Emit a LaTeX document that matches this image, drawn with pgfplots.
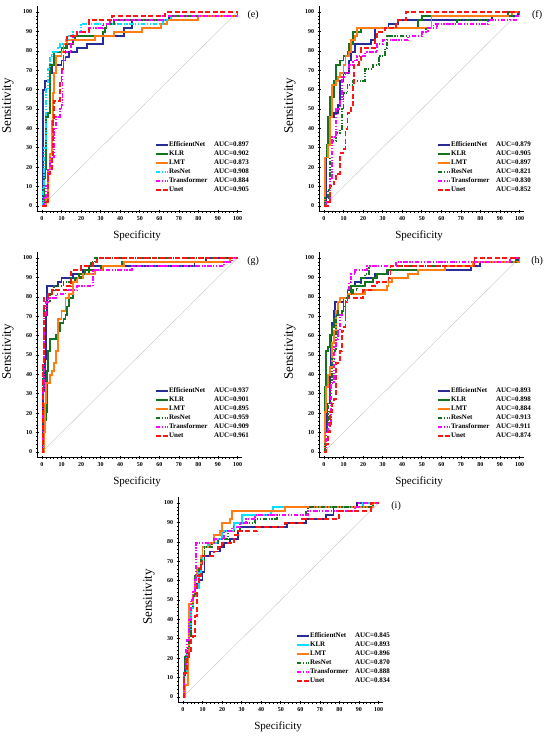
\documentclass[border=0pt]{standalone}
\usepackage{pgfplots}
\pgfplotsset{compat=1.18}
\usepackage{fontspec}
\setmainfont{Liberation Serif}
\definecolor{cEff}{RGB}{40,45,150}
\definecolor{cKLR}{RGB}{20,115,30}
\definecolor{cLMT}{RGB}{255,125,20}
\definecolor{cCyan}{RGB}{0,225,255}
\definecolor{cMag}{RGB}{255,0,255}
\definecolor{cRed}{RGB}{255,20,20}
\tikzset{
  ddot/.style={dash pattern=on 4.5pt off 1.6pt on 1.2pt off 1.6pt on 1.2pt off 1.6pt},
  dsh/.style={dash pattern=on 5pt off 2.6pt},
  sEff/.style={cEff,line width=1.9pt},
  sKLR/.style={cKLR,line width=1.9pt},
  sLMT/.style={cLMT,line width=1.9pt},
  sResC/.style={cCyan,line width=1.9pt,ddot},
  sResG/.style={cKLR,line width=1.9pt,ddot},
  sKLRC/.style={cCyan,line width=1.9pt},
  sTra/.style={cMag,line width=1.9pt,ddot},
  sUnet/.style={cRed,line width=1.9pt,dsh},
}
\pgfplotsset{
  rocax/.style={
    scale only axis, width=205.3pt, height=205.6pt,
    xmin=-2.5,xmax=102.5,ymin=-3,ymax=103,
    axis lines=left, axis line style={-, line width=0.9pt},
    xtick={0,10,...,100}, ytick={0,10,...,100},
    minor x tick num=4, minor y tick num=4,
    major tick length=3pt, minor tick length=1.6pt,
    tick style={black, line width=0.6pt},
    tick label style={font=\fontsize{6}{7}\selectfont\bfseries},
    /pgf/number format/assume math mode=true,
    clip=false,
    xlabel={Specificity}, ylabel={Sensitivity},
    xlabel style={at={(axis description cs:0.487,-0.115)}, anchor=center, font=\fontsize{11}{12}\selectfont},
    ylabel style={at={(axis description cs:-0.142,0.515)}, anchor=center, font=\fontsize{13}{14}\selectfont},
    every axis plot/.append style={const plot mark left},
    legend style={draw=none, fill=none, font=\fontsize{7}{8}\selectfont\bfseries,
      anchor=north west, at={(axis cs:56,34.5)}, row sep=1.5pt,
      nodes={inner sep=0.5pt, text height=5pt, text depth=1.5pt}},
    legend cell align=left,
    legend image code/.code={\draw[#1,sharp plot] (0pt,0pt) -- (12pt,0pt);},
  }
}
\newcommand{\diag}{\addplot[sharp plot, gray!45, line width=0.4pt, forget plot] coordinates {(0,0) (100,100)};}
\newcommand{\lab}[2]{\makebox[45pt][l]{#1}AUC=#2}
\begin{document}
\begin{tikzpicture}
\useasboundingbox (0,0) rectangle (550pt,737pt);
% ---------------- (e)
\begin{axis}[rocax, at={(37.1pt,525.2pt)}, anchor=south west]
\diag
\addplot[sEff] coordinates {(0,0)(0.5,60)(1.5,64.6)(4,68.7)(5,72.9)(10,75)(12,77)(14,79.2)(18,81.3)(23,83.3)(31,87.5)(42,91.7)(46,95.8)(65,97.9)(100,100)};
\addlegendentry{\lab{EfficientNet}{0.897}}
\addplot[sKLR] coordinates {(0,0)(0.8,14.6)(1.4,18.8)(2,45.8)(3,47.9)(4,72.9)(6,79.2)(10,81.3)(13,83.3)(16,85.4)(17,87.5)(31,89.6)(32,91.7)(33,93.8)(37,95.8)(66,97.9)(100,100)};
\addlegendentry{\lab{KLR}{0.902}}
\addplot[sLMT] coordinates {(0,0)(2,4)(3,18.8)(4,27)(5,43.8)(5.5,58.3)(6,68.7)(7,77.1)(10,79.2)(11,83.3)(13,85.4)(27,87.5)(37,89.6)(51,91.7)(61,93.8)(64,95.8)(80,97.9)(100,100)};
\addlegendentry{\lab{LMT}{0.873}}
\addplot[sResC] coordinates {(0,0)(0.5,10)(1,30)(2,60.4)(3,70.8)(4,77.1)(5,79.2)(8,81.3)(9,83.3)(12,85.4)(14,87.5)(16,89.6)(20,93.8)(62,95.8)(66,97.9)(100,100)};
\addlegendentry{\lab{ResNet}{0.908}}
\addplot[sTra] coordinates {(0,0)(1,4)(2,10.4)(3,18.8)(4,25)(6,39.6)(7,45.8)(9,50)(10,52.1)(10.5,70.8)(11,75)(12,79.2)(15,83.3)(16,87.5)(18,89.6)(24,91.7)(31,93.8)(35,95.8)(62,97.9)(100,100)};
\addlegendentry{\lab{Transformer}{0.884}}
\addplot[sUnet] coordinates {(0,0)(2,2)(3,16.7)(4,18.8)(5,25)(5.5,43.8)(6,54.2)(9,64.6)(10,70.8)(11,79.2)(12,83.3)(13,87.5)(18,89.6)(24,95.8)(36,97.9)(63,100)(100,100)};
\addlegendentry{\lab{Unet}{0.905}}
\node[font=\fontsize{10}{12}\selectfont] at (axis cs:108,98.5) {(e)};
\end{axis}
% ---------------- (f)
\begin{axis}[rocax, at={(319.1pt,525.2pt)}, anchor=south west]
\diag
\addplot[sEff] coordinates {(0,0)(1,25)(2,41.7)(3,45.8)(5,47.9)(7,52.1)(8,64.6)(10,68.7)(13,75)(14,79.2)(16,83.3)(24,85.4)(26,91.7)(33,93.8)(38,95.8)(86,97.9)(99,100)(100,100)};
\addlegendentry{\lab{EfficientNet}{0.879}}
\addplot[sKLR] coordinates {(0,0)(0.5,25)(1.5,31.3)(2,45.8)(3,56.3)(5,64.6)(6,72.9)(8,75)(10,77.1)(12,79.2)(13,83.3)(15,89.6)(19,91.7)(48,95.8)(50,97.9)(94,100)(100,100)};
\addlegendentry{\lab{KLR}{0.905}}
\addplot[sLMT] coordinates {(0,0)(0.3,25)(2,31.3)(3,45.8)(4,62.5)(6,64.6)(7,66.7)(8,68.7)(10,72.9)(11,77.1)(13,79.2)(14,85.4)(16,87.5)(17,91.7)(55,97.9)(96,100)(100,100)};
\addlegendentry{\lab{LMT}{0.897}}
\addplot[sResG] coordinates {(0,0)(0.5,4.2)(2,8.3)(3,25)(4,33.3)(6,37.5)(8,39.6)(9,50)(10,58.3)(12,62.5)(15,64.6)(21,70.8)(25,72.9)(28,77.1)(31,81.3)(32,87.5)(50,89.6)(52,91.7)(56,93.8)(68,95.8)(95,97.9)(100,100)};
\addlegendentry{\lab{ResNet}{0.821}}
\addplot[sTra] coordinates {(0,0)(1,2.1)(3,14.6)(4,35.4)(6,50)(8,54.2)(9,66.7)(11,68.7)(13,72.9)(15,75)(17,77.1)(21,79.2)(27,83.3)(30,85.4)(43,87.5)(50,89.6)(53,91.7)(58,93.8)(84,95.8)(98,97.9)(100,100)};
\addlegendentry{\lab{Transformer}{0.830}}
\addplot[sUnet] coordinates {(0,0)(2,2)(3,10.4)(5,12.5)(6,16.7)(8,27.1)(10,29.2)(11,39.6)(12,47.9)(14,52.1)(15,62.5)(15.5,72.9)(18,75)(19,81.3)(26,85.4)(27,89.6)(31,91.7)(37,93.8)(38,95.8)(42,100)(100,100)};
\addlegendentry{\lab{Unet}{0.852}}
\node[font=\fontsize{10}{12}\selectfont] at (axis cs:109,98.5) {(f)};
\end{axis}
% ---------------- (g)
\begin{axis}[rocax, at={(37.1pt,279.2pt)}, anchor=south west]
\diag
\addplot[sEff] coordinates {(0,0)(0.5,31.3)(1.5,47.9)(2,70.8)(2.5,85.4)(8,87.5)(10,89.6)(16,91.7)(21,93.8)(24,95.8)(78,97.9)(84,100)(100,100)};
\addlegendentry{\lab{EfficientNet}{0.937}}
\addplot[sKLR] coordinates {(0,0)(1,16.7)(2,20.8)(2.5,41.7)(3,52.1)(4,58.3)(7,60.4)(8,62.5)(9,66.7)(11,68.7)(12,70.8)(13,75)(14,79.2)(16,87.5)(17,89.6)(19,91.7)(24,93.8)(30,95.8)(41,97.9)(96,100)(100,100)};
\addlegendentry{\lab{KLR}{0.901}}
\addplot[sLMT] coordinates {(0,0)(1,10.4)(1.5,25)(2,35.4)(4,39.6)(5,41.7)(6,45.8)(7,52.1)(8,68.7)(10,72.9)(12,79.2)(14,81.3)(16,87.5)(18,89.6)(21,91.7)(27,93.8)(31,95.8)(42,97.9)(96,100)(100,100)};
\addlegendentry{\lab{LMT}{0.895}}
\addplot[sResG] coordinates {(0,0)(0.5,45.8)(1,75)(2,77.1)(4,81.3)(5,83.3)(6,85.4)(11,87.5)(15,89.6)(20,91.7)(22,93.8)(24,95.8)(25,97.9)(27,100)(100,100)};
\addlegendentry{\lab{ResNet}{0.959}}
\addplot[sTra] coordinates {(0,0)(0.5,31.3)(1,70.8)(2,77.1)(3,79.2)(7,81.3)(12,83.3)(18,85.4)(26,93.8)(46,95.8)(93,97.9)(97,100)(100,100)};
\addlegendentry{\lab{Transformer}{0.909}}
\addplot[sUnet] coordinates {(0,0)(0.5,45.8)(1,79.2)(3,81.3)(5,83.3)(13,85.4)(15,93.8)(20,95.8)(26,97.9)(28,100)(100,100)};
\addlegendentry{\lab{Unet}{0.961}}
\node[font=\fontsize{10}{12}\selectfont] at (axis cs:108,98.5) {(g)};
\end{axis}
% ---------------- (h)
\begin{axis}[rocax, at={(319.1pt,279.2pt)}, anchor=south west]
\diag
\addplot[sEff] coordinates {(0,0)(0.5,10.4)(1.5,25)(3,43.8)(3.5,60.4)(4,66.7)(5,72.9)(5.5,77.1)(10,79.2)(12,83.3)(14,85.4)(16,87.5)(19,89.6)(26,91.7)(33,93.8)(75,95.8)(80,97.9)(99,100)(100,100)};
\addlegendentry{\lab{EfficientNet}{0.893}}
\addplot[sKLR] coordinates {(0,0)(0.5,33.3)(1,52.1)(2,54.2)(3,60.4)(4,64.6)(5,68.7)(6,70.8)(9,72.9)(10,79.2)(13,81.3)(14,85.4)(21,87.5)(25,89.6)(27,91.7)(32,93.8)(62,95.8)(77,97.9)(98,100)(100,100)};
\addlegendentry{\lab{KLR}{0.898}}
\addplot[sLMT] coordinates {(0,0)(0.3,20.8)(1,33.3)(2,39.6)(3,43.8)(4,56.3)(5,62.5)(6,72.9)(7,77.1)(8,79.2)(12,81.3)(21,83.3)(32,85.4)(33,87.5)(35,89.6)(43,91.7)(48,93.8)(62,95.8)(76,97.9)(100,100)};
\addlegendentry{\lab{LMT}{0.884}}
\addplot[sResG] coordinates {(0,0)(0.5,4.2)(1,10.4)(2,25)(3,35.4)(4,47.9)(5,52.1)(6,70.8)(7,72.9)(10,75)(11,79.2)(13,81.3)(15,83.3)(17,85.4)(19,89.6)(21,91.7)(23,95.8)(62,97.9)(98,100)(100,100)};
\addlegendentry{\lab{ResNet}{0.913}}
\addplot[sTra] coordinates {(0,0)(1,10.4)(2,14.6)(3.5,35.4)(5,54.2)(6,58.3)(7,62.5)(8,70.8)(11,77.1)(12,83.3)(13,87.5)(14,91.7)(16,93.8)(22,95.8)(37,97.9)(95,100)(100,100)};
\addlegendentry{\lab{Transformer}{0.911}}
\addplot[sUnet] coordinates {(0,0)(1,4.2)(2,10.4)(3,20.8)(4,25)(5,27.1)(6,45.8)(8,52.1)(9,62.5)(10,64.6)(11,77.1)(12,79.2)(20,83.3)(24,85.4)(27,87.5)(33,89.6)(34,95.8)(77,100)(100,100)};
\addlegendentry{\lab{Unet}{0.874}}
\node[font=\fontsize{10}{12}\selectfont] at (axis cs:109,98.5) {(h)};
\end{axis}
% ---------------- (i)
\begin{axis}[rocax, at={(178.1pt,34.2pt)}, anchor=south west]
\diag
\addplot[sEff] coordinates {(0,0)(0.5,12.5)(1,20.8)(2,22.9)(3,31.3)(4,45.8)(5,52.1)(6,56.3)(7,58.3)(8,60.4)(10,64.6)(11,72.9)(14,75)(19,77.1)(21,79.2)(24,81.3)(28,85.4)(29,87.5)(53,89.6)(63,91.7)(73,93.8)(77,97.9)(89,100)(100,100)};
\addlegendentry{\lab{EfficientNet}{0.845}}
\addplot[sKLRC] coordinates {(0,0)(0.5,12.5)(2,22.9)(3,33.3)(4,45.8)(5,52.1)(6,56.3)(8,64.6)(9,70.8)(10,77.1)(13,79.2)(18,81.3)(20,85.4)(26,89.6)(30,93.8)(45,95.8)(46,97.9)(92,100)(100,100)};
\addlegendentry{\lab{KLR}{0.893}}
\addplot[sLMT] coordinates {(0,0)(1,6.3)(2.5,22.9)(3,47.9)(5,52.1)(6,62.5)(7,66.7)(9,72.9)(10,77.1)(14,79.2)(16,83.3)(19,85.4)(20,89.6)(24,91.7)(25,95.8)(52,97.9)(97,100)(100,100)};
\addlegendentry{\lab{LMT}{0.896}}
\addplot[sResG] coordinates {(0,0)(0.5,10.4)(1,20.8)(2,25)(3,31.3)(4,45.8)(5,52.1)(6,62.5)(8,66.7)(9,70.8)(11,77.1)(15,79.2)(18,81.3)(23,85.4)(29,89.6)(37,91.7)(48,93.8)(63,95.8)(64,97.9)(97,100)(100,100)};
\addlegendentry{\lab{ResNet}{0.870}}
\addplot[sTra] coordinates {(0,0)(0.5,12.5)(1.5,25)(2,29.2)(3,39.6)(4,50)(5,54.2)(6,60.4)(6.5,79.2)(16,81.3)(21,85.4)(25,87.5)(29,89.6)(32,91.7)(37,93.8)(64,95.8)(88,97.9)(90,100)(100,100)};
\addlegendentry{\lab{Transformer}{0.888}}
\addplot[sUnet] coordinates {(0,0)(0.5,12.5)(2,20.8)(3,22.9)(4,29.2)(5,31.3)(6,41.7)(7,58.3)(8,62.5)(9,68.7)(10,72.9)(16,75)(18,77.1)(20,79.2)(26,83.3)(28,85.4)(38,87.5)(52,89.6)(61,91.7)(80,95.8)(96,100)(100,100)};
\addlegendentry{\lab{Unet}{0.834}}
\node[font=\fontsize{10}{12}\selectfont] at (axis cs:109,98.5) {(i)};
\end{axis}
\end{tikzpicture}
\end{document}
